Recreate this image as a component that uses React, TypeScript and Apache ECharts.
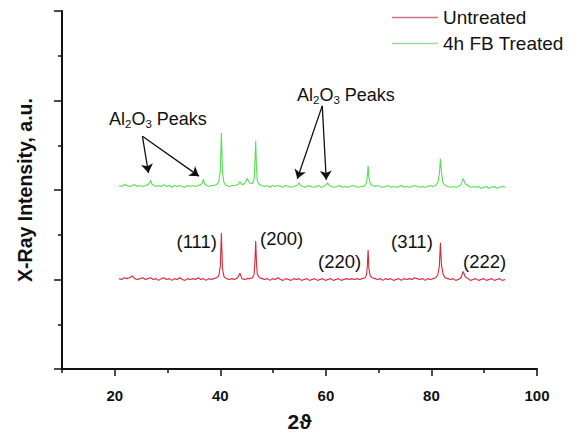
import React, { useEffect, useRef } from "react";
import * as echarts from "echarts";

const FONT = "'Liberation Sans', Arial, sans-serif";

const seriesNames = ["Untreated", "4h FB Treated"];
const xTickLabels = [20, 40, 60, 80, 100];
const xMinorTicks = [10, 30, 50, 70, 90];

// Untreated (red) pattern: [2θ, intensity]
const untreated: [number, number][] = [
  [20.8, 1.01], [21.3, 1.0], [21.8, 1.02], [22.3, 1.01], [22.8, 1.02], [23.3, 1.04], [23.8, 1.01], [24.3, 1.0],
  [24.8, 1.01], [25.3, 1.02], [25.8, 1.0], [26.3, 1.01], [26.8, 1.02], [27.3, 1.0], [27.8, 1.01], [28.3, 0.99],
  [28.8, 1.01], [29.3, 1.02], [29.8, 1.0], [30.3, 1.01], [30.8, 0.99], [31.3, 1.01], [31.8, 1.0], [32.3, 1.02],
  [32.8, 1.0], [33.3, 0.99], [33.8, 1.01], [34.3, 1.0], [34.8, 1.01], [35.3, 1.0], [35.8, 1.02], [36.3, 1.0],
  [36.8, 1.01], [37.3, 0.99], [37.8, 1.01], [38.3, 1.0], [38.8, 1.01], [39.3, 1.02], [39.7, 1.04], [40.0, 1.15],
  [40.2, 1.52], [40.4, 1.12], [40.7, 1.03], [41.2, 1.01], [41.7, 1.0], [42.2, 1.01], [42.7, 1.0], [43.3, 1.02],
  [43.7, 1.07], [44.1, 1.01], [44.6, 1.0], [45.1, 1.01], [45.6, 1.01], [46.1, 1.02], [46.4, 1.06], [46.55, 1.2],
  [46.7, 1.43], [46.85, 1.18], [47.0, 1.06], [47.4, 1.02], [47.9, 1.01], [48.4, 1.0], [48.9, 1.01], [49.4, 0.99],
  [49.9, 1.01], [50.4, 1.0], [50.9, 1.02], [51.4, 1.0], [51.9, 0.99], [52.4, 1.01], [52.9, 1.0], [53.4, 0.99],
  [53.9, 1.01], [54.4, 1.0], [54.9, 1.01], [55.4, 0.99], [55.9, 1.0], [56.4, 1.01], [56.9, 0.99], [57.4, 1.0],
  [57.9, 1.01], [58.4, 0.99], [58.9, 1.0], [59.4, 1.01], [59.9, 0.99], [60.4, 1.0], [60.9, 1.01], [61.4, 0.99],
  [61.9, 1.0], [62.4, 1.01], [62.9, 0.99], [63.4, 1.0], [63.9, 1.01], [64.4, 1.0], [64.9, 1.01], [65.4, 1.0],
  [65.9, 1.01], [66.4, 1.0], [66.9, 1.01], [67.4, 1.02], [67.7, 1.05], [67.85, 1.15], [68.0, 1.33], [68.15, 1.12],
  [68.4, 1.04], [68.8, 1.02], [69.3, 1.01], [69.8, 1.0], [70.3, 1.01], [70.8, 0.99], [71.3, 1.01], [71.8, 1.0],
  [72.3, 1.01], [72.8, 0.99], [73.3, 1.0], [73.8, 1.01], [74.3, 0.99], [74.8, 1.01], [75.3, 1.0], [75.8, 1.01],
  [76.3, 1.0], [76.8, 1.02], [77.3, 1.01], [77.8, 1.0], [78.3, 1.01], [78.8, 0.99], [79.3, 1.01], [79.8, 1.0],
  [80.3, 1.01], [80.8, 1.02], [81.2, 1.05], [81.5, 1.15], [81.7, 1.41], [81.9, 1.16], [82.2, 1.06], [82.6, 1.02],
  [83.1, 1.01], [83.6, 1.0], [84.1, 1.01], [84.6, 0.99], [85.1, 1.0], [85.6, 1.02], [86.0, 1.09], [86.4, 1.03],
  [86.9, 1.01], [87.4, 0.99], [87.9, 1.0], [88.4, 1.01], [88.9, 0.99], [89.4, 1.0], [89.9, 1.01], [90.4, 0.99],
  [90.9, 1.0], [91.4, 1.01], [91.9, 0.99], [92.4, 1.0], [92.9, 1.01], [93.4, 0.99], [94.0, 1.0],
];

// 4h FB Treated (green) pattern: [2θ, intensity]
const treated: [number, number][] = [
  [20.8, 2.05], [21.3, 2.04], [21.8, 2.06], [22.3, 2.05], [22.8, 2.04], [23.3, 2.05], [23.8, 2.06], [24.3, 2.04],
  [24.8, 2.05], [25.3, 2.04], [25.8, 2.05], [26.3, 2.06], [26.6, 2.08], [26.8, 2.11], [27.0, 2.07], [27.4, 2.05],
  [27.8, 2.04], [28.3, 2.05], [28.8, 2.04], [29.3, 2.06], [29.8, 2.04], [30.3, 2.05], [30.8, 2.03], [31.3, 2.05],
  [31.8, 2.04], [32.3, 2.05], [32.8, 2.04], [33.3, 2.03], [33.8, 2.05], [34.3, 2.04], [34.8, 2.05], [35.3, 2.04],
  [35.8, 2.05], [36.3, 2.06], [36.6, 2.08], [36.8, 2.12], [37.0, 2.07], [37.4, 2.05], [37.8, 2.04], [38.3, 2.05],
  [38.8, 2.05], [39.3, 2.06], [39.7, 2.09], [40.0, 2.22], [40.2, 2.64], [40.4, 2.2], [40.7, 2.08], [41.2, 2.05],
  [41.7, 2.04], [42.2, 2.05], [42.7, 2.05], [43.3, 2.06], [43.7, 2.09], [44.1, 2.06], [44.6, 2.07], [45.1, 2.13],
  [45.5, 2.08], [46.1, 2.07], [46.4, 2.12], [46.55, 2.3], [46.7, 2.55], [46.85, 2.25], [47.0, 2.1], [47.4, 2.06],
  [47.9, 2.05], [48.4, 2.04], [48.9, 2.05], [49.4, 2.03], [49.9, 2.05], [50.4, 2.04], [50.9, 2.05], [51.4, 2.04],
  [51.9, 2.03], [52.4, 2.05], [52.9, 2.04], [53.4, 2.03], [53.9, 2.04], [54.4, 2.05], [54.7, 2.06], [54.9, 2.08],
  [55.2, 2.05], [55.6, 2.04], [56.1, 2.03], [56.6, 2.05], [57.1, 2.04], [57.6, 2.03], [58.1, 2.04], [58.6, 2.05],
  [59.1, 2.03], [59.6, 2.04], [60.0, 2.06], [60.3, 2.08], [60.6, 2.05], [61.1, 2.04], [61.6, 2.03], [62.1, 2.04],
  [62.6, 2.05], [63.1, 2.03], [63.6, 2.04], [64.1, 2.03], [64.6, 2.04], [65.1, 2.05], [65.6, 2.04], [66.1, 2.03],
  [66.6, 2.04], [67.1, 2.04], [67.4, 2.05], [67.7, 2.08], [67.85, 2.16], [68.0, 2.27], [68.15, 2.14], [68.4, 2.07],
  [68.8, 2.05], [69.3, 2.04], [69.8, 2.05], [70.3, 2.04], [70.8, 2.03], [71.3, 2.04], [71.8, 2.05], [72.3, 2.03],
  [72.8, 2.04], [73.3, 2.03], [73.8, 2.04], [74.3, 2.05], [74.8, 2.03], [75.3, 2.04], [75.8, 2.03], [76.3, 2.04],
  [76.8, 2.05], [77.3, 2.04], [77.8, 2.03], [78.3, 2.04], [78.8, 2.03], [79.3, 2.04], [79.8, 2.05], [80.3, 2.04],
  [80.8, 2.05], [81.2, 2.08], [81.5, 2.18], [81.7, 2.35], [81.9, 2.19], [82.2, 2.08], [82.6, 2.05], [83.1, 2.04],
  [83.6, 2.03], [84.1, 2.04], [84.6, 2.03], [85.1, 2.04], [85.6, 2.06], [86.0, 2.13], [86.4, 2.07], [86.9, 2.05],
  [87.4, 2.03], [87.9, 2.04], [88.4, 2.03], [88.9, 2.04], [89.4, 2.02], [89.9, 2.03], [90.4, 2.04], [90.9, 2.02],
  [91.4, 2.03], [91.9, 2.04], [92.4, 2.02], [92.9, 2.03], [93.4, 2.04], [94.0, 2.03],
];

// Al2O3 annotation arrows: [from, to] in data coordinates
const arrowsLeft: [number, number][][] = [
  [[25.24, 2.6], [26.38, 2.19]],
  [[25.24, 2.6], [35.95, 2.155]],
];
const arrowsRight: [number, number][][] = [
  [[59.31, 2.94], [54.58, 2.125]],
  [[59.31, 2.94], [60.07, 2.115]],
];

const peakLabels = ["(111)", "(200)", "(220)", "(311)", "(222)"];

const RED = "#d42a3a";
const GREEN = "#55e055";
const LEGEND_RED = "#c4788a";
const LEGEND_GREEN = "#9ed89e";

export default function App() {
  const ref = useRef<HTMLDivElement>(null);
  useEffect(() => {
    if (!ref.current) return;
    const chart = echarts.init(ref.current, undefined, { renderer: "svg" });
    const arrowData = [...arrowsLeft, ...arrowsRight].map((a) => [{ coord: a[0] }, { coord: a[1] }]);
    const labelStyle = { fontFamily: FONT, fontSize: 18.5, fill: "#111" };
    const rich = {
      n: { fontFamily: FONT, fontSize: 18, lineHeight: 22, verticalAlign: "middle", fill: "#111", color: "#111" },
      s: { fontFamily: FONT, fontSize: 11.5, lineHeight: 10, verticalAlign: "bottom", fill: "#111", color: "#111" },
    };
    const alText = "{n|Al}{s|2}{n|O}{s|3}{n| Peaks}";
    chart.setOption({
      animation: false,
      backgroundColor: "#fff",
      textStyle: { fontFamily: FONT },
      grid: { left: 62, right: 50, top: 11, bottom: 65, containLabel: false },
      legend: {
        orient: "vertical",
        left: 387,
        top: 3,
        itemWidth: 46,
        itemHeight: 14,
        itemGap: 7,
        icon: "rect",
        data: [
          { name: seriesNames[0], icon: "path://M0,6 L46,6 L46,7.3 L0,7.3 Z", itemStyle: { color: LEGEND_RED, borderWidth: 0 }, lineStyle: { color: LEGEND_RED, width: 0 } },
          { name: seriesNames[1], icon: "path://M0,6 L46,6 L46,7.3 L0,7.3 Z", itemStyle: { color: LEGEND_GREEN, borderWidth: 0 }, lineStyle: { color: LEGEND_GREEN, width: 0 } },
        ],
        textStyle: { fontFamily: FONT, fontSize: 19, color: "#111", lineHeight: 18 },
      },
      xAxis: [
        {
          type: "value",
          min: 10,
          max: 100,
          interval: 10,
          name: "2\u03D1",
          nameLocation: "middle",
          nameGap: 42,
          nameTextStyle: { fontFamily: FONT, fontSize: 21, fontWeight: "bold", color: "#111" },
          axisLine: { show: true, lineStyle: { color: "#111", width: 2 } },
          axisTick: { show: true, length: 7, customValues: xTickLabels, lineStyle: { color: "#111", width: 1.5 } },
          axisLabel: { customValues: xTickLabels, fontFamily: FONT, fontSize: 15, fontWeight: "bold", color: "#111", margin: 19 },
          splitLine: { show: false },
        },
        {
          type: "value",
          min: 10,
          max: 100,
          interval: 10,
          position: "bottom",
          axisLine: { show: false },
          axisTick: { show: true, length: 4, customValues: xMinorTicks, lineStyle: { color: "#111", width: 1.5 } },
          axisLabel: { show: false },
          splitLine: { show: false },
        },
      ],
      yAxis: {
        type: "value",
        min: 0,
        max: 4,
        interval: 1,
        name: "X-Ray Intensity, a.u.",
        nameLocation: "middle",
        nameGap: 27,
        nameTextStyle: { fontFamily: FONT, fontSize: 19.5, fontWeight: "bold", color: "#111" },
        axisLine: { show: true, lineStyle: { color: "#111", width: 2 } },
        axisTick: { show: true, length: 8, lineStyle: { color: "#111", width: 1.5 } },
        minorTick: { show: true, splitNumber: 2, length: 4, lineStyle: { color: "#111", width: 1.5 } },
        axisLabel: { show: false },
        splitLine: { show: false },
      },
      series: [
        {
          name: seriesNames[0],
          type: "line",
          data: untreated,
          showSymbol: false,
          symbol: "none",
          color: RED,
          itemStyle: { color: RED },
          lineStyle: { color: RED, width: 1.1 },
        },
        {
          name: seriesNames[1],
          type: "line",
          data: treated,
          showSymbol: false,
          symbol: "none",
          color: GREEN,
          itemStyle: { color: GREEN },
          lineStyle: { color: GREEN, width: 1.1 },
          markLine: {
            silent: true,
            symbol: ["none", "arrow"],
            symbolSize: 9,
            label: { show: false },
            lineStyle: { color: "#111", width: 1.3, type: "solid" },
            itemStyle: { color: "#111" },
            emphasis: { disabled: true },
            data: arrowData,
          },
        },
      ],
      graphic: [
        { type: "text", x: 109, y: 119, style: { text: alText, rich, verticalAlign: "middle", align: "left" } },
        { type: "text", x: 297, y: 95, style: { text: alText, rich, verticalAlign: "middle", align: "left" } },
        { type: "text", x: 217, y: 241, style: { ...labelStyle, text: peakLabels[0], align: "right", verticalAlign: "middle" } },
        { type: "text", x: 260, y: 238, style: { ...labelStyle, text: peakLabels[1], align: "left", verticalAlign: "middle" } },
        { type: "text", x: 318, y: 261, style: { ...labelStyle, text: peakLabels[2], align: "left", verticalAlign: "middle" } },
        { type: "text", x: 391, y: 241, style: { ...labelStyle, text: peakLabels[3], align: "left", verticalAlign: "middle" } },
        { type: "text", x: 463, y: 261, style: { ...labelStyle, text: peakLabels[4], align: "left", verticalAlign: "middle" } },
      ],
    });
    return () => chart.dispose();
  }, []);
  return <div ref={ref} style={{ width: 587, height: 437, position: "absolute", left: 0, top: 0 }} />;
}
